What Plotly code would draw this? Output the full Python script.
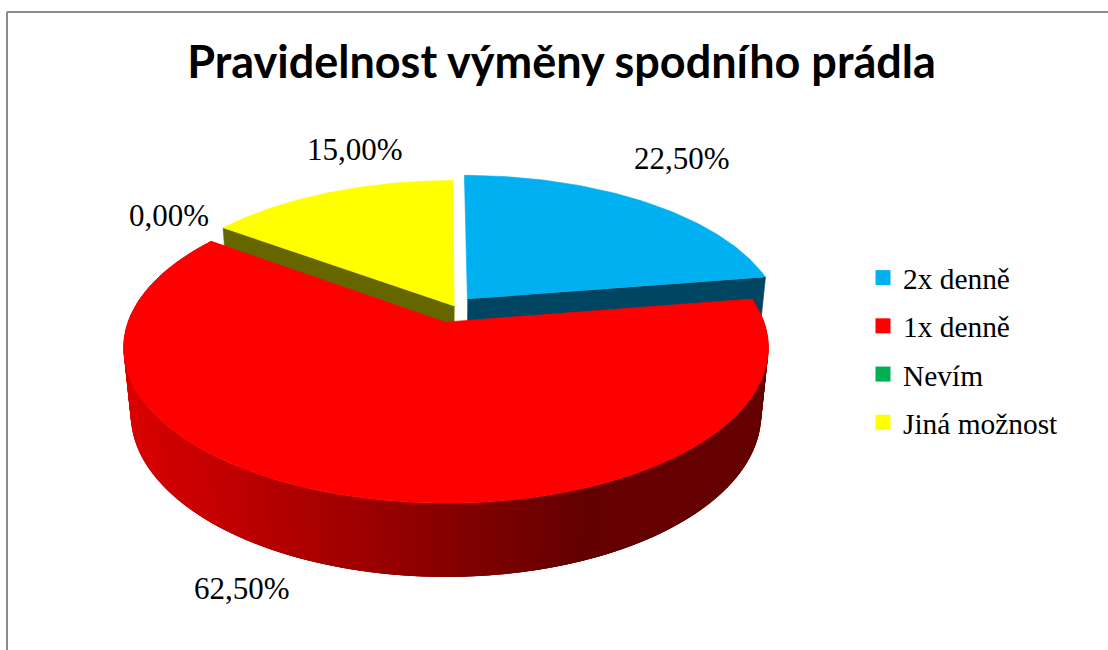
import numpy as np
import plotly.graph_objects as go

# Chart content
TITLE = "Pravidelnost výměny spodního prádla"
categories = ["2x denně", "1x denně", "Nevím", "Jiná možnost"]
shares = [22.5, 62.5, 0.0, 15.0]

# Styling for each category: top face, and side face where it is flat
top_colors = ["#00B0F0", "#FF0000", "#00B050", "#FFFF00"]
side_colors = ["#004662", "#660000", "#004620", "#666600"]

# Slice separation on the disc plane (across, towards the viewer)
explode = [(0.069, -0.156), (0.0, 0.0), (0.0, 0.0), (0.0272, -0.1077)]

# Percent label anchors, in figure pixels
label_xy = [(682, 158), (242, 588), (169, 215), (355, 149)]

# Projection of the tilted disc onto the page
ORIGIN_X, ORIGIN_Y = 446.0, 322.0
RADIUS_X, RADIUS_Y = 318.0, 151.2
PERSPECTIVE = 0.166
THICKNESS = 67.0
FLOOR_DEPTH = 0.022


def project(u, v, floor=False):
    u, v = np.asarray(u, float), np.asarray(v, float)
    w = 1 - PERSPECTIVE * v + (FLOOR_DEPTH if floor else 0.0)
    lift = THICKNESS if floor else 0.0
    return ORIGIN_X + RADIUS_X * u / w, ORIGIN_Y + (RADIUS_Y * v + lift) / w


def rim(theta, offset):
    # Angles run clockwise from twelve o'clock
    return offset[0] + np.sin(theta), offset[1] - np.cos(theta)


def polygon(xs, ys, color, edge=0.6):
    return go.Scatter(
        x=list(xs), y=list(ys), mode="lines", fill="toself", fillcolor=color,
        line=dict(color=color, width=edge), hoverinfo="skip", showlegend=False,
    )


def red_shade(x):
    # Side shading of the large slice darkens from left to right
    t = np.clip((x - 130.0) / (595.0 - 130.0), 0, 1)
    return f"rgb({int(round(218 - t * 122)) if x < 595 else 100},0,0)"


fractions = np.cumsum([0.0] + shares) / sum(shares)
starts = fractions[:-1] * 2 * np.pi
ends = fractions[1:] * 2 * np.pi

fig = go.Figure()

# Back slices first, the front slice last so that it overlaps them
for i in (0, 3):
    offset = explode[i]
    cut = starts[i] if i == 3 else ends[i]
    ru, rv = rim(cut, offset)
    x1, y1 = project([offset[0], ru], [offset[1], rv])
    x2, y2 = project([ru, offset[0]], [rv, offset[1]], floor=True)
    fig.add_trace(polygon(np.r_[x1, x2], np.r_[y1, y2], side_colors[i]))
    th = np.linspace(starts[i], ends[i], 80)
    ru, rv = rim(th, offset)
    x, y = project(np.r_[offset[0], ru], np.r_[offset[1], rv])
    fig.add_trace(polygon(x, y, top_colors[i]))

# Curved wall of the large slice: overlapping shaded strips, painted in
# sequence so each one covers the soft edge of the one before it
i = 1
edges = np.linspace(starts[i], ends[i], 181)
for k in range(len(edges) - 1):
    arc = np.linspace(edges[k], edges[min(k + 3, len(edges) - 1)], 4)
    ru, rv = rim(arc, explode[i])
    x1, y1 = project(ru, rv)
    x2, y2 = project(ru[::-1], rv[::-1], floor=True)
    mid_u, mid_v = rim((edges[k] + edges[k + 1]) / 2, explode[i])
    mx = 0.5 * (project(mid_u, mid_v)[0] + project(mid_u, mid_v, floor=True)[0])
    fig.add_trace(polygon(np.r_[x1, x2], np.r_[y1, y2], red_shade(float(mx)), edge=0))

th = np.linspace(starts[i], ends[i], 240)
ru, rv = rim(th, explode[i])
x, y = project(np.r_[0.0, ru], np.r_[0.0, rv])
fig.add_trace(polygon(x, y, top_colors[i]))

# Legend keys
for name, color in zip(categories, top_colors):
    fig.add_trace(go.Scatter(
        x=[None], y=[None], mode="markers", name=name, legendgroup=name,
        marker=dict(symbol="square", size=15, color=color),
    ))

# Percent labels
for share, (lx, ly) in zip(shares, label_xy):
    fig.add_annotation(
        x=lx, y=ly, text=f"{share:.2f}".replace(".", ",") + "%", showarrow=False,
        font=dict(family="Liberation Serif", size=31, color="#000000"),
        xanchor="center", yanchor="middle",
    )

fig.update_layout(
    width=1108, height=650, autosize=False,
    margin=dict(l=0, r=0, t=0, b=0),
    paper_bgcolor="#FFFFFF", plot_bgcolor="#FFFFFF",
    title=dict(
        text=f"<b>{TITLE}</b>", x=561.5 / 1108, xanchor="center",
        y=1 - 62 / 650, yanchor="middle",
        font=dict(family="Lato", size=45, color="#000000"),
    ),
    xaxis=dict(range=[0, 1108], visible=False, fixedrange=True),
    yaxis=dict(range=[650, 0], visible=False, fixedrange=True),
    legend=dict(
        x=869 / 1108, y=1 - 252 / 650, xanchor="left", yanchor="top",
        font=dict(family="Liberation Serif", size=29.4, color="#000000"),
        tracegroupgap=7, bgcolor="rgba(0,0,0,0)", indentation=-6,
    ),
    shapes=[
        dict(type="line", xref="x", yref="y", x0=7, x1=7, y0=12, y1=650,
             line=dict(color="#8C8C8C", width=2)),
        dict(type="line", xref="x", yref="y", x0=7, x1=1108, y0=12, y1=12,
             line=dict(color="#8C8C8C", width=2)),
    ],
)

fig.write_html("out.html")
